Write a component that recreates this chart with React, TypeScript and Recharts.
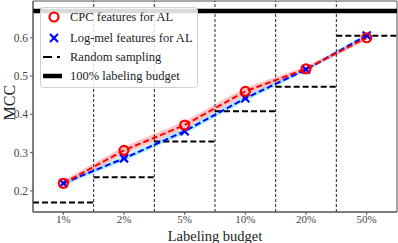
import React from 'react';
import { ComposedChart, Line, Area, XAxis, YAxis, ReferenceLine, ReferenceArea } from 'recharts';

const categories = ['1%', '2%', '5%', '10%', '20%', '50%'];
const cpcValues = [0.22, 0.306, 0.372, 0.46, 0.519, 0.6];
const cpcStd = [0.008, 0.01, 0.01, 0.01, 0.006, 0.006];
const logmelValues = [0.22, 0.285, 0.356, 0.442, 0.517, 0.606];
const logmelStd = [0.006, 0.007, 0.007, 0.007, 0.005, 0.005];
const randomValues = [0.17, 0.236, 0.329, 0.408, 0.472, 0.605];
const fullBudget = 0.67;
const yTicks = [0.2, 0.3, 0.4, 0.5, 0.6];

const data = categories.map((c, i) => ({
  x: i + 0.5,
  cpc: cpcValues[i],
  cpcBand: [cpcValues[i] - cpcStd[i], cpcValues[i] + cpcStd[i]],
  logmel: logmelValues[i],
  logmelBand: [logmelValues[i] - logmelStd[i], logmelValues[i] + logmelStd[i]],
}));

const FONT = '"Liberation Serif", "DejaVu Serif", serif';

const Cross = (props: any) => {
  const { cx, cy } = props;
  if (cx == null || cy == null) return null;
  const s = 4;
  return (
    <g>
      <line x1={cx - s} y1={cy - s} x2={cx + s} y2={cy + s} stroke="#0000ff" strokeWidth={2.2} />
      <line x1={cx - s} y1={cy + s} x2={cx + s} y2={cy - s} stroke="#0000ff" strokeWidth={2.2} />
    </g>
  );
};

const Ring = (props: any) => {
  const { cx, cy } = props;
  if (cx == null || cy == null) return null;
  return <circle cx={cx} cy={cy} r={4.5} fill="none" stroke="#ff0000" strokeWidth={2.2} />;
};

const LegendBox = () => (
  <svg
    width={158}
    height={81}
    style={{ position: 'absolute', left: 40, top: 7 }}
  >
    <rect x={0.5} y={0.5} width={157} height={80} rx={3} fill="rgba(255,255,255,0.85)" stroke="#d0d0d0" />
    <circle cx={14} cy={10} r={4.5} fill="none" stroke="#ff0000" strokeWidth={2.2} />
    <g>
      <line x1={10} y1={27} x2={18} y2={35} stroke="#0000ff" strokeWidth={2.2} />
      <line x1={10} y1={35} x2={18} y2={27} stroke="#0000ff" strokeWidth={2.2} />
    </g>
    <line x1={3} y1={50} x2={12} y2={50} stroke="#000" strokeWidth={2} />
    <line x1={17} y1={50} x2={20} y2={50} stroke="#000" strokeWidth={2} />
    <line x1={3} y1={69} x2={22} y2={69} stroke="#000" strokeWidth={4.5} />
    <text x={30} y={14} fontFamily={FONT} fontSize={12.5} fill="#222">CPC features for AL</text>
    <text x={30} y={35} fontFamily={FONT} fontSize={12.5} fill="#222">Log-mel features for AL</text>
    <text x={30} y={54} fontFamily={FONT} fontSize={12.5} fill="#222">Random sampling</text>
    <text x={30} y={73} fontFamily={FONT} fontSize={12.5} fill="#222">100% labeling budget</text>
  </svg>
);

export default function App() {
  return (
    <div style={{ position: 'absolute', left: 0, top: 0, width: 398, height: 243, background: '#fff' }}>
      <ComposedChart
        width={398}
        height={243}
        data={data}
        margin={{ top: 1, right: 1, bottom: 0, left: 0 }}
      >
        <XAxis
          type="number"
          dataKey="x"
          domain={[0, 6]}
          ticks={data.map((d) => d.x)}
          tickFormatter={(v: number) => categories[Math.round(v - 0.5)]}
          height={31}
          stroke="#555"
          tick={{ fill: '#444', fontSize: 11, fontFamily: FONT }}
          tickSize={3}
          tickMargin={0}
          label={{ value: 'Labeling budget', position: 'insideBottom', offset: 2, fill: '#222', fontSize: 14.5, fontFamily: FONT }}
        />
        <YAxis
          type="number"
          domain={[0.145, 0.696]}
          ticks={yTicks}
          tickFormatter={(v: number) => v.toFixed(1)}
          width={33}
          stroke="#555"
          tick={{ fill: '#444', fontSize: 11.5, fontFamily: FONT }}
          tickSize={3}
          tickMargin={2}
          allowDataOverflow
          label={{ value: 'MCC', angle: -90, position: 'insideLeft', offset: 9, dy: 14, fill: '#222', fontSize: 16, fontFamily: FONT }}
        />
        <ReferenceArea x1={0} x2={6} y1={0.145} y2={0.696} fill="none" stroke="#555" strokeWidth={1} />
        {[1, 2, 3, 4, 5].map((b) => (
          <ReferenceLine key={b} x={b} stroke="#222" strokeWidth={1} strokeDasharray="3 2" />
        ))}
        {randomValues.map((v, i) => (
          <ReferenceLine
            key={'r' + i}
            segment={[{ x: i, y: v }, { x: i + 1, y: v }]}
            stroke="#000"
            strokeWidth={2}
            strokeDasharray="6 3"
          />
        ))}
        <ReferenceLine y={fullBudget} stroke="#000" strokeWidth={4.5} />
        <Area dataKey="logmelBand" stroke="none" fill="#00ccff" fillOpacity={0.35} isAnimationActive={false} />
        <Area dataKey="cpcBand" stroke="none" fill="#ff5555" fillOpacity={0.35} isAnimationActive={false} />
        <Line
          dataKey="logmel"
          stroke="#0000ff"
          strokeWidth={2}
          strokeDasharray="6 3"
          dot={<Cross />}
          activeDot={false}
          isAnimationActive={false}
        />
        <Line
          dataKey="cpc"
          stroke="#ff0000"
          strokeWidth={2}
          strokeDasharray="6 3"
          dot={<Ring />}
          activeDot={false}
          isAnimationActive={false}
        />
      </ComposedChart>
      <LegendBox />
    </div>
  );
}
